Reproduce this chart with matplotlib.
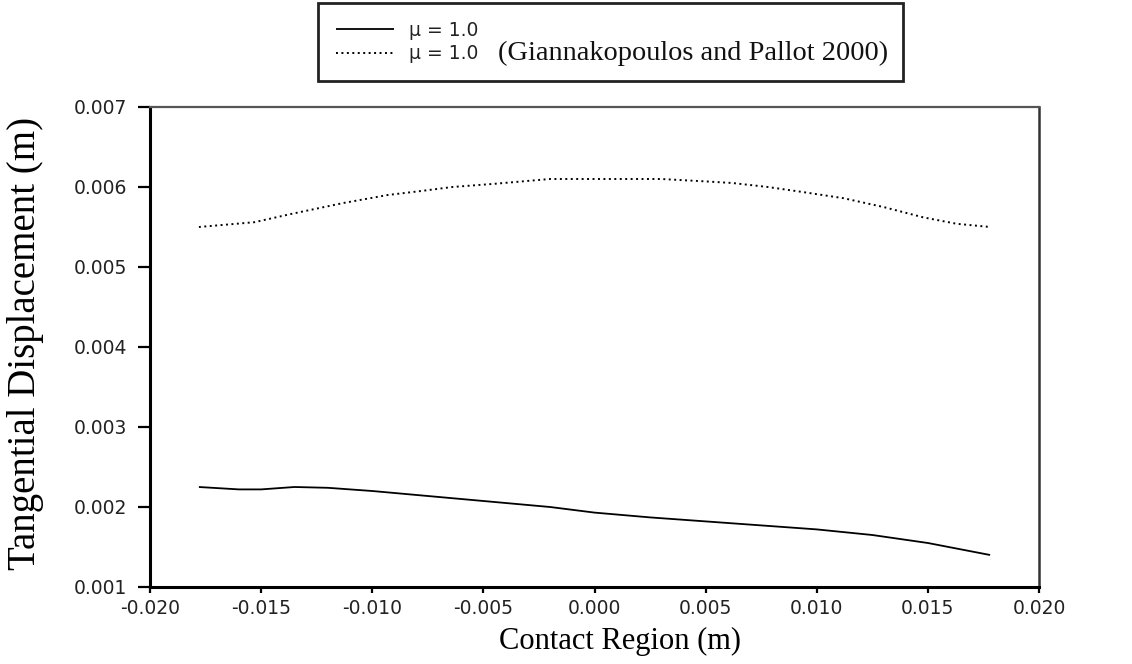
import matplotlib
matplotlib.use("Agg")
import matplotlib.pyplot as plt
from matplotlib.ticker import FixedLocator, FormatStrFormatter

# ---- data ----
x_present = [-0.0178, -0.0160, -0.0150, -0.0135, -0.0120, -0.0110, -0.0100, -0.0080,
             -0.0060, -0.0040, -0.0020, 0.0000, 0.0025, 0.0050, 0.0075, 0.0100,
             0.0125, 0.0150, 0.0178]
y_present = [0.00225, 0.00222, 0.00222, 0.00225, 0.00224, 0.00222, 0.00220, 0.00215,
             0.00210, 0.00205, 0.00200, 0.00193, 0.00187, 0.00182, 0.00177, 0.00172,
             0.00165, 0.00155, 0.00140]

x_gp = [-0.0178, -0.0153, -0.0137, -0.0113, -0.0093, -0.0078, -0.0064, -0.0045,
        -0.0020, 0.0000, 0.0030, 0.0050, 0.0062, 0.0078, 0.0093, 0.0112,
        0.0130, 0.0148, 0.0163, 0.0178]
y_gp = [0.00550, 0.00556, 0.00566, 0.00580, 0.00590, 0.00595, 0.00600, 0.00604,
        0.00610, 0.00610, 0.00610, 0.00607, 0.00605, 0.00600, 0.00594, 0.00586,
        0.00575, 0.00562, 0.00554, 0.00550]

x_ticks = [-0.020, -0.015, -0.010, -0.005, 0.000, 0.005, 0.010, 0.015, 0.020]
y_ticks = [0.001, 0.002, 0.003, 0.004, 0.005, 0.006, 0.007]

label_main = "μ = 1.0"
label_ref = "μ = 1.0"
label_ref_extra = "(Giannakopoulos and Pallot 2000)"
x_label = "Contact Region (m)"
y_label = "Tangential Displacement (m)"

# ---- figure ----
W, H = 1132, 664
fig = plt.figure(figsize=(W / 100, H / 100), dpi=100)
ax = fig.add_axes([150 / W, 1 - 587 / H, 889 / W, 480 / H])

l1, = ax.plot(x_present, y_present, color="black", lw=1.3, solid_capstyle="butt")
l2, = ax.plot(x_gp, y_gp, color="black", lw=1.4, linestyle=(0, (1, 1.8)))

ax.set_xlim(-0.020, 0.020)
ax.set_ylim(0.001, 0.007)
ax.xaxis.set_major_locator(FixedLocator(x_ticks))
ax.yaxis.set_major_locator(FixedLocator(y_ticks))
ax.xaxis.set_major_formatter(FormatStrFormatter("%.3f"))
ax.yaxis.set_major_formatter(FormatStrFormatter("%.3f"))

TS = 13.5
ax.tick_params(axis="x", direction="out", length=4.5, width=1.6, pad=4,
               labelsize=TS, labelcolor="#222222", top=False)
ax.tick_params(axis="y", direction="out", length=8.6, width=1.6, pad=8,
               labelsize=TS, labelcolor="#222222", right=False)
for lab in ax.get_xticklabels() + ax.get_yticklabels():
    lab.set_family("DejaVu Sans")

ax.spines["left"].set_linewidth(2.2)
ax.spines["bottom"].set_linewidth(2.2)
ax.spines["top"].set_linewidth(1.6)
ax.spines["top"].set_color("#555555")
ax.spines["right"].set_linewidth(1.8)
ax.spines["right"].set_color("#333333")

ax.set_xlabel(x_label, family="Liberation Serif", fontsize=22, va="center", ha="center")
ax.xaxis.set_label_coords((620 - 150) / 889, (587 - 641) / 480)
ax.set_ylabel(y_label, family="Liberation Serif", fontsize=28, va="center", ha="center")
ax.yaxis.set_label_coords((26 - 150) / 889, (587 - 343) / 480)

# ---- legend ----
bx0, by0, bx1, by1 = 318, 3, 903, 79
leg = fig.legend([l1, l2], [label_main, label_ref], loc="upper left",
                 bbox_to_anchor=(bx0 / W, 1 - by1 / H, (bx1 - bx0) / W, (by1 - by0) / H),
                 mode="expand", borderaxespad=0, prop={"family": "DejaVu Sans", "size": TS},
                 handlelength=3.1, handletextpad=0.8, borderpad=0.94, labelspacing=0.25,
                 frameon=True, fancybox=False, edgecolor="#222222", framealpha=1.0)
leg.get_frame().set_linewidth(2.0)
for t in leg.get_texts():
    t.set_color("#222222")

fig.canvas.draw()
r = fig.canvas.get_renderer()
ext = leg.get_texts()[1].get_window_extent(r)
fig.text((ext.x1 + 20) / W, (ext.y0 + ext.y1) / 2 / H, label_ref_extra,
         family="Liberation Serif", fontsize=20.4, va="center", ha="left",
         color="#111111", zorder=10)

fig.savefig("out.png", dpi=100)
